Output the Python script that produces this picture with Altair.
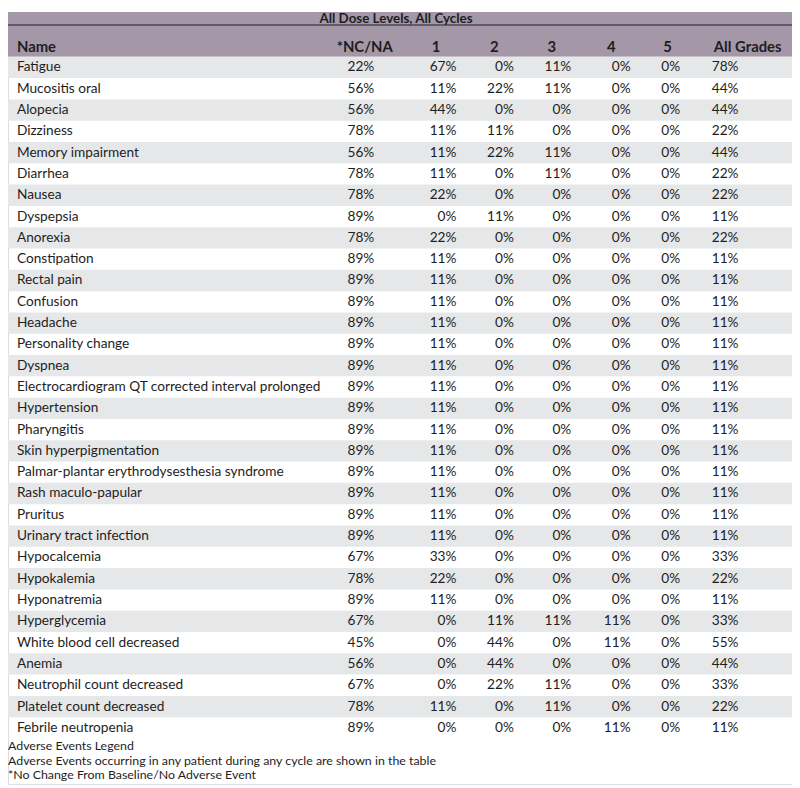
import altair as alt
import pandas as pd

title_text = "All Dose Levels, All Cycles"
headers = ["Name", "*NC/NA", "1", "2", "3", "4", "5", "All Grades"]

names = [
    "Fatigue", "Mucositis oral", "Alopecia", "Dizziness", "Memory impairment",
    "Diarrhea", "Nausea", "Dyspepsia", "Anorexia", "Constipation", "Rectal pain",
    "Confusion", "Headache", "Personality change", "Dyspnea",
    "Electrocardiogram QT corrected interval prolonged", "Hypertension",
    "Pharyngitis", "Skin hyperpigmentation",
    "Palmar-plantar erythrodysesthesia syndrome", "Rash maculo-papular",
    "Pruritus", "Urinary tract infection", "Hypocalcemia", "Hypokalemia",
    "Hyponatremia", "Hyperglycemia", "White blood cell decreased", "Anemia",
    "Neutrophil count decreased", "Platelet count decreased", "Febrile neutropenia",
]
nc_na = [22, 56, 56, 78, 56, 78, 78, 89, 78, 89, 89, 89, 89, 89, 89, 89,
         89, 89, 89, 89, 89, 89, 89, 67, 78, 89, 67, 45, 56, 67, 78, 89]
grade1 = [67, 11, 44, 11, 11, 11, 22, 0, 22, 11, 11, 11, 11, 11, 11, 11,
          11, 11, 11, 11, 11, 11, 11, 33, 22, 11, 0, 0, 0, 0, 11, 0]
grade2 = [0, 22, 0, 11, 22, 0, 0, 11, 0, 0, 0, 0, 0, 0, 0, 0,
          0, 0, 0, 0, 0, 0, 0, 0, 0, 0, 11, 44, 44, 22, 0, 0]
grade3 = [11, 11, 0, 0, 11, 11, 0, 0, 0, 0, 0, 0, 0, 0, 0, 0,
          0, 0, 0, 0, 0, 0, 0, 0, 0, 0, 11, 0, 0, 11, 11, 0]
grade4 = [0, 0, 0, 0, 0, 0, 0, 0, 0, 0, 0, 0, 0, 0, 0, 0,
          0, 0, 0, 0, 0, 0, 0, 0, 0, 0, 11, 11, 0, 0, 0, 11]
grade5 = [0] * 32
all_grades = [78, 44, 44, 22, 44, 22, 22, 11, 22, 11, 11, 11, 11, 11, 11, 11,
              11, 11, 11, 11, 11, 11, 11, 33, 22, 11, 33, 55, 44, 33, 22, 11]

footer_lines = [
    "Adverse Events Legend",
    "Adverse Events occurring in any patient during any cycle are shown in the table",
    "*No Change From Baseline/No Adverse Event",
]

W, H = 792, 780
FONT = "Lato"
BAND = "#a498a8"
STRIPE = "#e6e7e8"
TXT = "#1e1e1e"

n = len(names)
df = pd.DataFrame({
    "row": list(range(n)),
    "name": names,
    "nc": [f"{v}%" for v in nc_na],
    "g1": [f"{v}%" for v in grade1],
    "g2": [f"{v}%" for v in grade2],
    "g3": [f"{v}%" for v in grade3],
    "g4": [f"{v}%" for v in grade4],
    "g5": [f"{v}%" for v in grade5],
    "all": [f"{v}%" for v in all_grades],
})
df["stripe"] = df["row"] % 2 == 0

yscale = alt.Scale(domain=list(range(n)), range=[45.3, 734], paddingInner=0, paddingOuter=0)
Y = alt.Y("row:O", scale=yscale, axis=None)

base = alt.Chart(df)

stripes = base.transform_filter("datum.stripe").mark_rect(color=STRIPE).encode(
    y=Y, x=alt.value(0), x2=alt.value(W)
)

band_df = pd.DataFrame({"t": [title_text]})
band = alt.Chart(band_df).mark_rect(color=BAND).encode(
    x=alt.value(0), x2=alt.value(W), y=alt.value(0), y2=alt.value(45.3)
)
line = alt.Chart(band_df).mark_rule(color="#4f4555", strokeWidth=1.5).encode(
    x=alt.value(0), x2=alt.value(W), y=alt.value(13.3)
)
title = alt.Chart(band_df).mark_text(
    font=FONT, fontSize=13.5, fontWeight="bold", color=TXT, align="center", baseline="top"
).encode(x=alt.value(392), y=alt.value(0.5), text="t:N")

hdr_x = [9, 332, 428, 487, 545, 605, 662, 713]
hdr_df = pd.DataFrame({"h": headers, "x": hdr_x})
hdr_layers = [
    alt.Chart(hdr_df[hdr_df["h"] == h]).mark_text(
        font=FONT, fontSize=15, fontWeight="bold", color=TXT, align="left", baseline="middle"
    ).encode(x=alt.value(x), y=alt.value(35), text="h:N")
    for h, x in zip(headers, hdr_x)
]

name_text = base.mark_text(
    font=FONT, fontSize=13.8, color=TXT, align="left", baseline="middle"
).encode(y=Y, x=alt.value(9), text="name:N")

col_keys = ["nc", "g1", "g2", "g3", "g4", "g5", "all"]
col_right = [370, 453, 511, 569, 629, 679, 738]
val_layers = [
    base.mark_text(font=FONT, fontSize=13.8, color=TXT, align="right", baseline="middle").encode(
        y=Y, x=alt.value(xr), text=f"{k}:N"
    )
    for k, xr in zip(col_keys, col_right)
]

foot_df = pd.DataFrame({"line": footer_lines, "i": [0, 1, 2]})
foot_y = [742, 757, 771]
foot_layers = [
    alt.Chart(foot_df[foot_df["i"] == i]).mark_text(
        font=FONT, fontSize=12.5, color=TXT, align="left", baseline="middle"
    ).encode(x=alt.value(0), y=alt.value(fy), text="line:N")
    for i, fy in enumerate(foot_y)
]

chart = alt.layer(
    band, line, title, *hdr_layers, stripes, name_text, *val_layers, *foot_layers
).properties(
    width=W, height=H, autosize="none", padding=0
).configure_view(stroke=None).configure(background="white")

chart.save("out.html", embed_options={"renderer": "svg", "actions": False})
